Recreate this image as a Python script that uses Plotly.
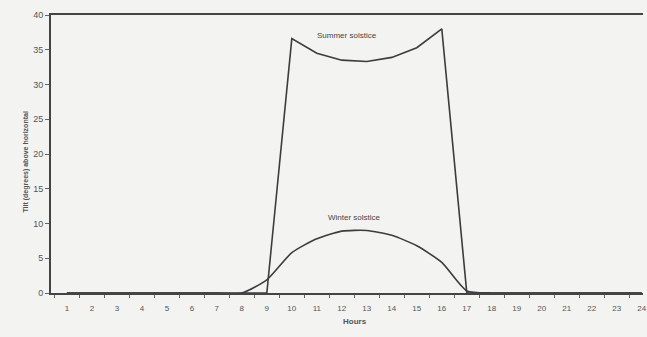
import plotly.graph_objects as go

hours = list(range(1, 25))
summer = [0, 0, 0, 0, 0, 0, 0, 0, 0, 36.6, 34.5, 33.5, 33.3, 33.9, 35.3, 38.0, 0, 0, 0, 0, 0, 0, 0, 0]
winter = [0, 0, 0, 0, 0, 0, 0, 0, 1.9, 5.8, 7.8, 8.9, 9.0, 8.3, 6.8, 4.4, 0.3, 0, 0, 0, 0, 0, 0, 0]
y_ticks = [0, 5, 10, 15, 20, 25, 30, 35, 40]

line_col = "#3c3c3c"
txt_col = "#555555"
bg = "#f3f3f1"

fig = go.Figure()
fig.add_trace(go.Scatter(x=hours, y=summer, mode="lines",
                         line=dict(color=line_col, width=1.6),
                         name="Summer solstice", showlegend=False, hoverinfo="skip"))
fig.add_trace(go.Scatter(x=hours, y=winter, mode="lines",
                         line=dict(color=line_col, width=1.6, shape="spline", smoothing=0.6),
                         name="Winter solstice", showlegend=False, hoverinfo="skip"))

fig.add_annotation(x=12.2, y=37.1, text="Summer solstice", showarrow=False,
                   font=dict(family="Liberation Sans", size=8, color="#444444"))
fig.add_annotation(x=12.5, y=10.8, text="Winter solstice", showarrow=False,
                   font=dict(family="Liberation Sans", size=8, color="#444444"))
fig.add_annotation(xref="paper", yref="paper", x=-0.052, y=0.47, text="<b>Tilt (degrees) above horizontal</b>",
                   textangle=-90, showarrow=False, font=dict(family="Liberation Sans", size=7, color="#555555"))
fig.add_annotation(xref="paper", yref="paper", x=0.513, y=-0.125, text="<b>Hours</b>",
                   showarrow=False, font=dict(family="Liberation Sans", size=8, color="#555555"))

fig.update_layout(
    width=647, height=337,
    margin=dict(l=51, r=0, t=15, b=44),
    paper_bgcolor=bg, plot_bgcolor=bg,
    font=dict(family="Liberation Sans", size=8, color=txt_col),
)
fig.update_xaxes(
    range=[0.365, 24.05], tickmode="array", tickvals=hours, ticktext=[str(h) for h in hours],
    showgrid=False, zeroline=False, showline=True, linecolor="#444444", linewidth=2, mirror=True,
    ticks="", ticklabelstandoff=6, ticklabeloverflow="allow",
    minor=dict(ticks="outside", ticklen=3, tickcolor="#666666", tick0=0.5, dtick=1, showgrid=False),
    tickfont=dict(size=8, color=txt_col),
)
fig.update_yaxes(
    range=[0, 40], tickmode="array", tickvals=y_ticks,
    showgrid=False, zeroline=False, showline=True, linecolor="#444444", linewidth=2,
    ticks="outside", ticklen=4, tickcolor="#666666",
    tickfont=dict(size=9, color=txt_col),
)

fig.write_html("out.html")
